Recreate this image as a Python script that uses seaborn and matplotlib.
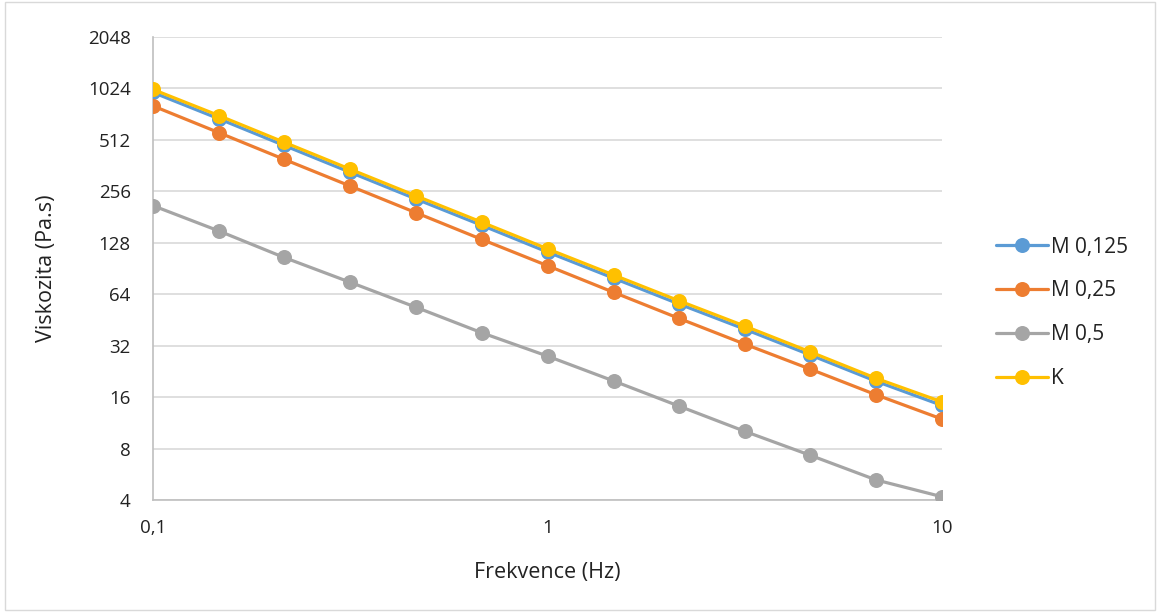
import numpy as np
import pandas as pd
import matplotlib
matplotlib.use("Agg")
import matplotlib.pyplot as plt
import seaborn as sns
from matplotlib.ticker import FixedLocator, FixedFormatter, NullLocator
from matplotlib.patches import Rectangle

freq = [0.1, 0.147, 0.215, 0.316, 0.464, 0.681, 1.0, 1.47, 2.15, 3.16, 4.64, 6.81, 10.0]
m0125 = [970, 680, 475, 331, 231, 162, 113, 79.5, 56.2, 40.0, 28.2, 19.8, 14.3]
m025 = [809, 564, 394, 275, 192, 134, 94, 65.7, 46.3, 32.7, 23.3, 16.5, 11.9]
m05 = [211, 150, 105, 75.2, 53.7, 38.1, 27.8, 19.9, 14.2, 10.1, 7.3, 5.24, 4.18]
k = [1010, 710, 496, 345, 241, 169, 118, 83, 58.7, 41.7, 29.4, 20.6, 15.0]

series_names = ["M 0,125", "M 0,25", "M 0,5", "K"]
series_vals = [m0125, m025, m05, k]
colors = ["#5B9BD5", "#ED7D31", "#A5A5A5", "#FFC000"]

y_ticks = [4, 8, 16, 32, 64, 128, 256, 512, 1024, 2048]
x_ticks = [0.1, 1, 10]
x_ticklabels = ["0,1", "1", "10"]

rows = []
for name, vals in zip(series_names, series_vals):
    for f, v in zip(freq, vals):
        rows.append({"Frekvence": f, "Viskozita": v, "Serie": name})
df = pd.DataFrame(rows)

sns.set_theme(style="white")
plt.rcParams["font.family"] = ["Open Sans", "DejaVu Sans"]

txt = "#222222"
fig = plt.figure(figsize=(11.6, 6.12), dpi=100)
ax = fig.add_axes([153/1160, 1-500/612, (942-153)/1160, (500-37)/612])

sns.lineplot(data=df, x="Frekvence", y="Viskozita", hue="Serie",
             hue_order=series_names, palette=colors, marker="o",
             markersize=10.8, markeredgewidth=0, linewidth=2.3, ax=ax,
             legend=True, zorder=3)

ax.set_xscale("log")
ax.set_yscale("log", base=2)
ax.set_xlim(0.1, 10)
ax.set_ylim(4, 2048)
ax.xaxis.set_major_locator(FixedLocator(x_ticks))
ax.xaxis.set_major_formatter(FixedFormatter(x_ticklabels))
ax.xaxis.set_minor_locator(NullLocator())
ax.yaxis.set_major_locator(FixedLocator(y_ticks))
ax.yaxis.set_major_formatter(FixedFormatter([str(t) for t in y_ticks]))
ax.yaxis.set_minor_locator(NullLocator())

ax.grid(axis="y", color="#D9D9D9", linewidth=1.2, zorder=0)
ax.grid(axis="x", visible=False)
for s in ["top", "right"]:
    ax.spines[s].set_visible(False)
ax.spines["left"].set_color("#BFBFBF")
ax.spines["left"].set_linewidth(1.2)
ax.spines["bottom"].set_color("#BFBFBF")
ax.spines["bottom"].set_linewidth(1.2)
ax.tick_params(axis="both", length=0, labelsize=13.5, colors=txt)
ax.tick_params(axis="y", pad=16)
ax.tick_params(axis="x", pad=14)
ax.set_xlabel("Frekvence (Hz)", fontsize=15.5, color=txt, labelpad=18)
ax.set_ylabel("Viskozita (Pa.s)", fontsize=15.5, color=txt, labelpad=22)

handles, labels = ax.get_legend_handles_labels()
leg = ax.legend(handles, labels, loc="center left", bbox_to_anchor=(1.045, 0.404),
                frameon=False, fontsize=15, handlelength=2.5, labelspacing=1.1,
                handletextpad=0.15)
for t in leg.get_texts():
    t.set_color(txt)

fig.patches.append(Rectangle((0.004, 0.004), 0.992, 0.992, transform=fig.transFigure,
                             fill=False, edgecolor="#D9D9D9", linewidth=1))

fig.savefig("out.png", dpi=100)
